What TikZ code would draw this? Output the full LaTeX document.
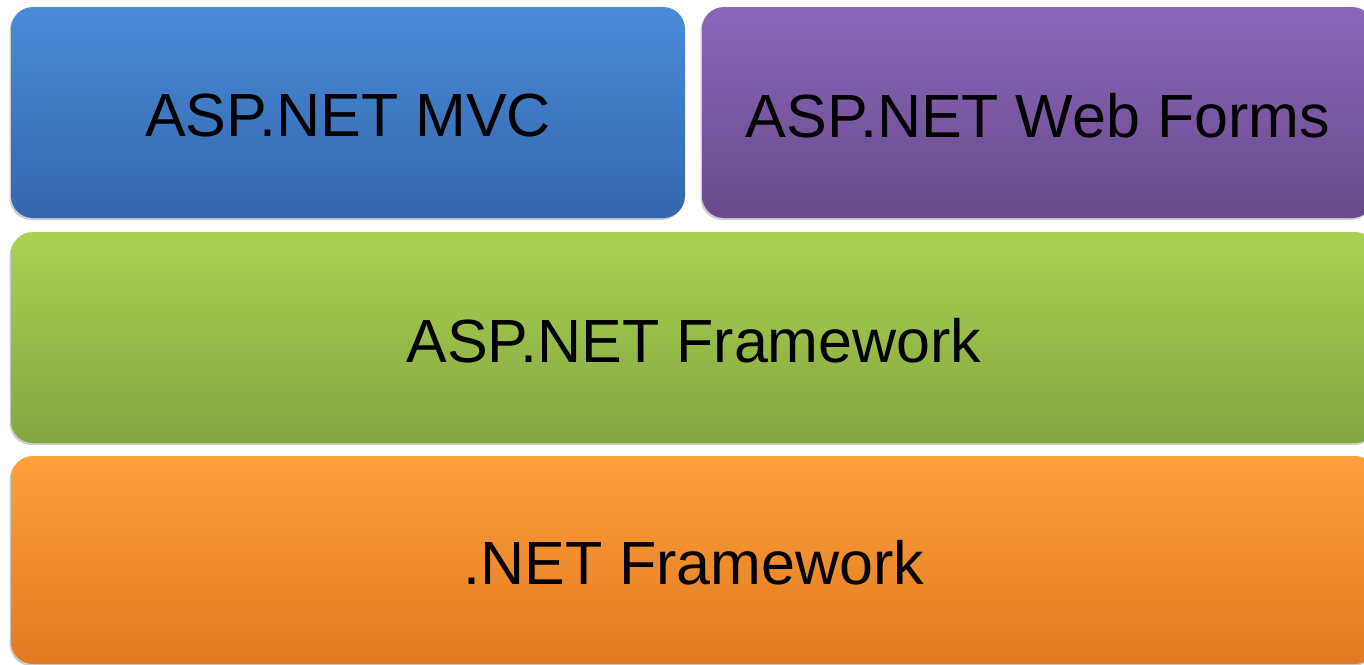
\documentclass[tikz,border=0pt]{standalone}
\usepackage{fontspec}
\setmainfont{Liberation Sans}
\usetikzlibrary{shadows}
\definecolor{bluetop}{HTML}{4A8BDA}
\definecolor{bluebot}{HTML}{3366AA}
\definecolor{purtop}{HTML}{8C66BA}
\definecolor{purbot}{HTML}{684A8C}
\definecolor{grntop}{HTML}{AAD252}
\definecolor{grnbot}{HTML}{84A640}
\definecolor{orgtop}{HTML}{FFA03A}
\definecolor{orgbot}{HTML}{E07A22}
\newcommand{\lbl}[1]{\raisebox{-3pt}[\height][\depth]{#1}}
\tikzset{
  layer/.style={rounded corners=22pt, inner sep=0pt, outer sep=0pt,
    font=\fontsize{61}{70}\selectfont, text=black,
    drop shadow={shadow xshift=-1.5pt, shadow yshift=-2pt, opacity=0.2, fill=black}},
}
\begin{document}
\begin{tikzpicture}[x=1pt,y=-1pt]
\useasboundingbox (0,0) rectangle (1364,664);
\clip (0,0) rectangle (1364,664);
\node[layer, top color=bluetop, bottom color=bluebot,
  minimum width=674pt, minimum height=211pt] (mvc) at (348,112.5) {\lbl{ASP.NET MVC}};
\node[layer, top color=purtop, bottom color=purbot,
  minimum width=672pt, minimum height=211pt] (wf) at (1038,112.5) {\lbl{ASP.NET Web Forms}};
\node[layer, top color=grntop, bottom color=grnbot,
  minimum width=1366pt, minimum height=211pt] (asp) at (694,337.5) {\lbl{ASP.NET Framework}};
\node[layer, top color=orgtop, bottom color=orgbot,
  minimum width=1366pt, minimum height=208pt] (net) at (694,560) {\lbl{.NET Framework}};
\end{tikzpicture}
\end{document}
